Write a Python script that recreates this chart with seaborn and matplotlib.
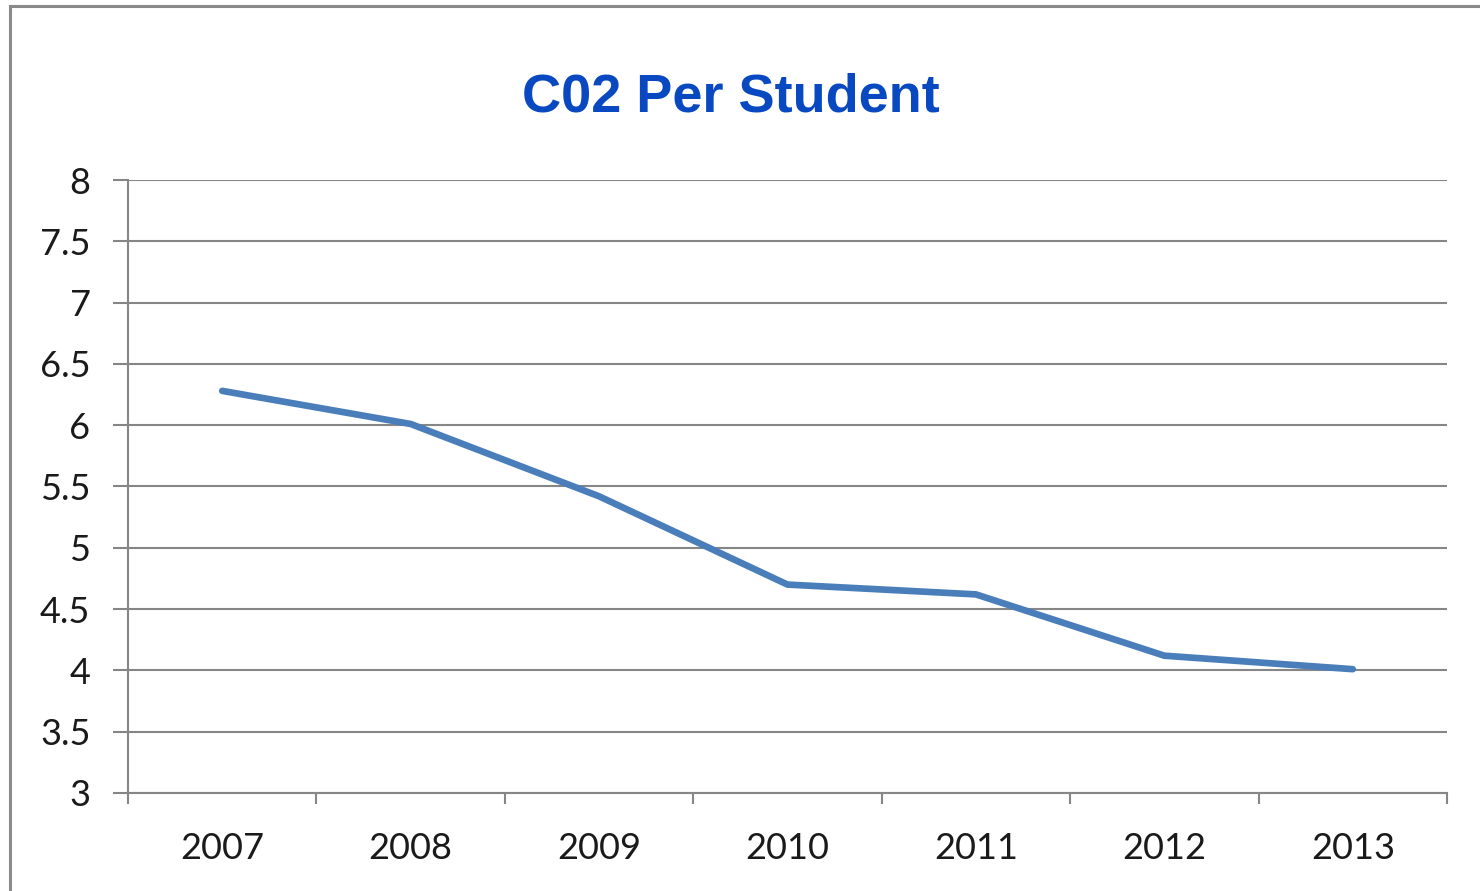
import matplotlib
matplotlib.use("Agg")
import matplotlib.pyplot as plt
import seaborn as sns
import pandas as pd
from matplotlib.patches import Rectangle
from matplotlib.ticker import MultipleLocator, FuncFormatter

years = ["2007", "2008", "2009", "2010", "2011", "2012", "2013"]
co2_per_student = [6.28, 6.01, 5.42, 4.70, 4.62, 4.12, 4.01]
title = "C02 Per Student"

df = pd.DataFrame({"year": years, "co2": co2_per_student})

sns.set_theme(style="white")
plt.rcParams["font.family"] = ["Lato", "DejaVu Sans"]

fig = plt.figure(figsize=(14.8, 8.91), dpi=100)
ax = fig.add_axes([128/1480, 1-793/891, (1447-128)/1480, (793-180)/891])

sns.lineplot(data=df, x="year", y="co2", ax=ax, color="#4a7ebb", linewidth=4.8,
             solid_capstyle="round", zorder=3)

ax.set_xlim(-0.5, len(years) - 0.5)
ax.set_ylim(3, 8)
ax.yaxis.set_major_locator(MultipleLocator(0.5))
ax.yaxis.set_major_formatter(FuncFormatter(lambda v, p: f"{v:g}"))
ax.grid(axis="y", color="#868686", linewidth=1.5)
ax.set_axisbelow(True)
ax.set_xlabel("")
ax.set_ylabel("")

for s in ["top", "right"]:
    ax.spines[s].set_visible(False)
ax.spines["left"].set_color("#868686")
ax.spines["left"].set_linewidth(1.5)
ax.spines["bottom"].set_color("#868686")
ax.spines["bottom"].set_linewidth(1.5)

ax.tick_params(axis="y", which="major", left=True, length=11, width=1.5, color="#868686",
               labelsize=26, labelcolor="#1a1a1a", pad=16)
ax.tick_params(axis="x", which="major", bottom=False, labelsize=26, labelcolor="#1a1a1a", pad=22)
ax.set_xticks([i - 0.5 for i in range(len(years) + 1)], minor=True)
ax.tick_params(axis="x", which="minor", bottom=True, length=8, width=1.5, color="#868686")

fig.text(731/1480, 1-97/891, title, ha="center", va="center", fontsize=39,
         fontweight="bold", color="#0848c0", family=["Liberation Sans", "DejaVu Sans"])

fig.patches.append(Rectangle((10/1480, -0.1), 1.2, 1 - 6/891 + 0.1, transform=fig.transFigure,
                             fill=False, edgecolor="#8a8a8a", linewidth=2.2, zorder=0))

fig.savefig("out.png", dpi=100, facecolor="white")
